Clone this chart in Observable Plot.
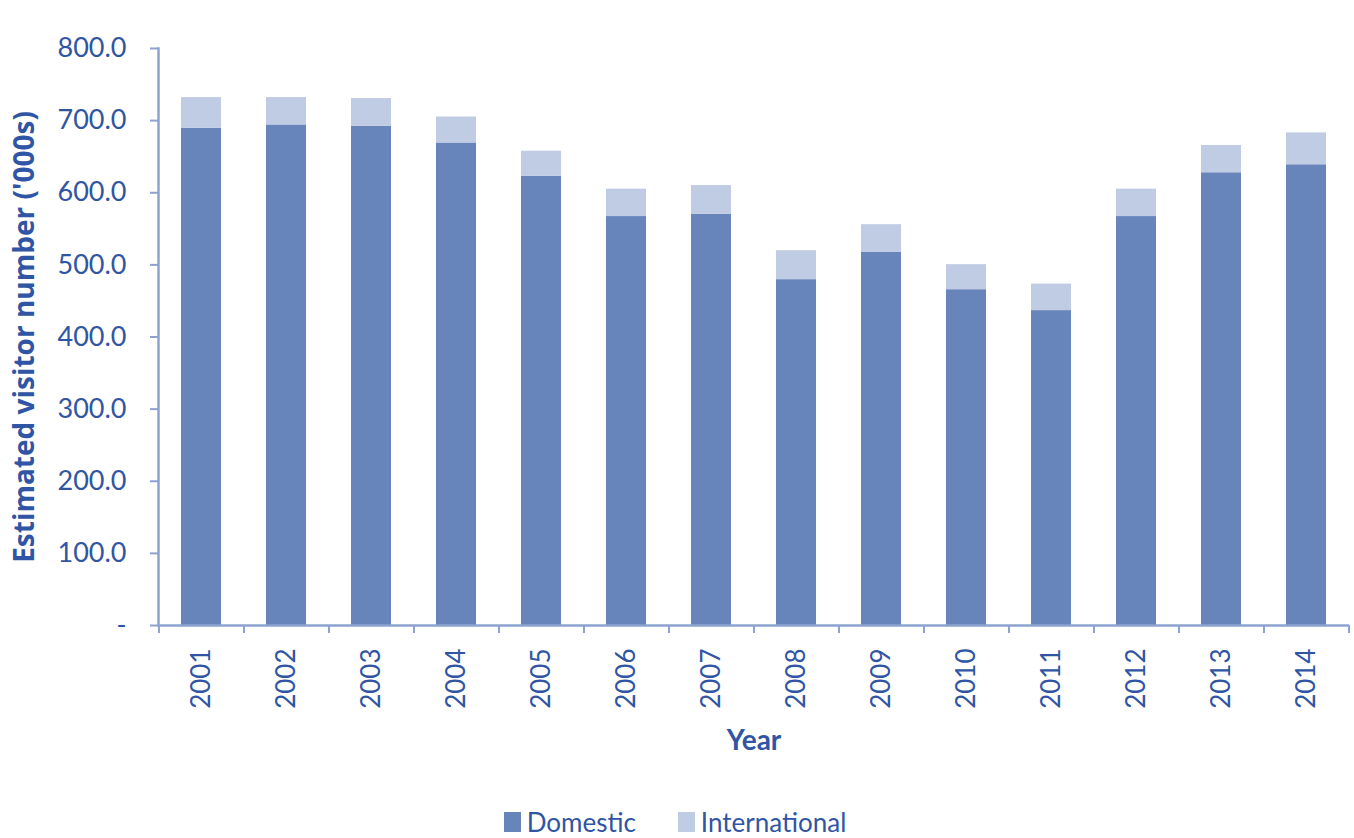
<!DOCTYPE html>
<html>
<head>
<meta charset="utf-8">
<script src="https://cdn.jsdelivr.net/npm/d3@7"></script>
<script src="https://cdn.jsdelivr.net/npm/@observablehq/plot@0.6"></script>
<style>
  html, body { margin: 0; padding: 0; background: #ffffff; }
  #chart { width: 1354px; }
  .legend { display: flex; justify-content: center; align-items: center; gap: 42px;
            font-family: Lato, "Open Sans", sans-serif; font-size: 26px; line-height: 30px; color: #2F55A4;
            height: 30px; margin-top: 2px; padding-right: 4px; }
  .legend span.item { display: flex; align-items: center; }
  .legend span.sw { display: inline-block; width: 17px; height: 20px; margin-right: 6px; }
</style>
</head>
<body>
<div id="chart"></div>
<script>
const years = ["2001","2002","2003","2004","2005","2006","2007","2008","2009","2010","2011","2012","2013","2014"];
const domestic = [689.5, 694, 692, 669, 623, 567, 570, 479.5, 517.7, 465.6, 436.6, 567, 627.7, 638.8];
const international = [42.5, 38, 38.6, 36, 34.6, 38, 40, 40.2, 38, 34.7, 36.8, 38, 37.8, 44.2];
const seriesNames = ["Domestic", "International"];
const seriesColors = ["#6785BA", "#C0CCE3"];
const yTicks = [0, 100, 200, 300, 400, 500, 600, 700, 800];
const yTitle = "Estimated visitor number ('000s)";
const xTitle = "Year";

const rows = [];
years.forEach((y, i) => {
  rows.push({year: y, type: seriesNames[0], value: domestic[i]});
  rows.push({year: y, type: seriesNames[1], value: international[i]});
});

const W = 1354, H = 805, mL = 158, mR = 5, mT = 48, mB = 180;
const step = (W - mL - mR) / years.length;
const textColor = "#2F55A4";
const axisColor = "#8CA3D0";

const chart = Plot.plot({
  width: W, height: H,
  marginLeft: mL, marginRight: mR, marginTop: mT, marginBottom: mB,
  style: {fontFamily: "Lato, 'Open Sans', sans-serif", fontSize: "26px", color: textColor, background: "#ffffff"},
  x: {domain: years, paddingInner: 0.53, paddingOuter: 0.265},
  y: {domain: [0, 800]},
  color: {domain: seriesNames, range: seriesColors},
  marks: [
    Plot.barY(rows, {x: "year", y: "value", fill: "type"}),
    Plot.frame({anchor: "left", stroke: axisColor, strokeWidth: 2.5, strokeOpacity: 1}),
    Plot.ruleY([0], {stroke: axisColor, strokeWidth: 2.5}),
    Plot.axisY({ticks: yTicks, tickSize: 8, tickPadding: 24, stroke: axisColor, strokeWidth: 2, strokeOpacity: 1,
      tickFormat: d => d === 0 ? "-" : d.toFixed(1), label: null, fill: textColor, fontSize: 27}),
    Plot.axisX({tickSize: 0, tickRotate: -90, tickPadding: 23, label: null, fill: textColor, fontSize: 26}),
    Plot.axisX({tickSize: 8, tickFormat: () => "", label: null, dx: -step / 2, stroke: axisColor, strokeWidth: 2, strokeOpacity: 1}),
    Plot.axisX([years[years.length - 1]], {tickSize: 8, tickFormat: () => "", label: null, dx: step / 2, stroke: axisColor, strokeWidth: 2, strokeOpacity: 1}),
    Plot.text([yTitle], {frameAnchor: "left", textAnchor: "middle", rotate: -90, dx: -133, fontWeight: "bold",
      fontSize: 28, fontFamily: "'Open Sans', Lato, sans-serif", fill: textColor}),
    Plot.text([xTitle], {frameAnchor: "bottom", dy: 124, fontWeight: "bold", fontSize: 28, fill: textColor})
  ]
});
document.getElementById("chart").appendChild(chart);

const legend = document.createElement("div");
legend.className = "legend";
seriesNames.forEach((n, i) => {
  const item = document.createElement("span");
  item.className = "item";
  const sw = document.createElement("span");
  sw.className = "sw";
  sw.style.background = seriesColors[i];
  item.appendChild(sw);
  item.appendChild(document.createTextNode(n));
  legend.appendChild(item);
});
document.getElementById("chart").appendChild(legend);
</script>
</body>
</html>
